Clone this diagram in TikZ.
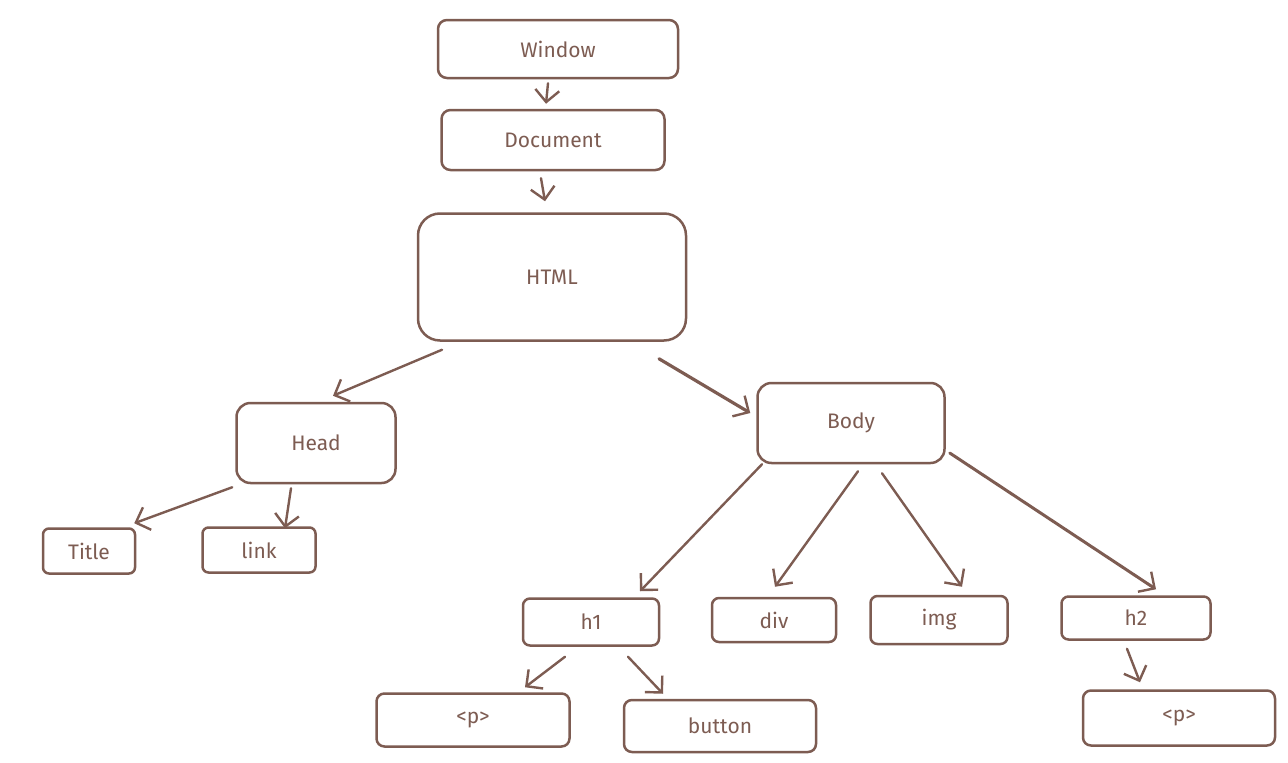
\documentclass[tikz,border=0pt]{standalone}
\usepackage{fontspec}
\setmainfont{Fira Sans}
\usetikzlibrary{arrows.meta}
\definecolor{ink}{RGB}{125,92,82}
\tikzset{
  box/.style={draw=ink, line width=2.5pt, rounded corners=9pt, fill=white, text=ink,
    inner sep=0pt, font=\fontsize{21}{24}\selectfont},
  arr/.style={draw=ink, line width=2.4pt, line cap=round,
    -{Straight Barb[length=12pt,width=24pt,line width=2.4pt]}},
}
\begin{document}
\begin{tikzpicture}[x=1pt,y=-1pt]
\useasboundingbox (0,0) rectangle (1288,763);
\node[box, minimum width=240pt, minimum height=58pt] (win) at (558,49) {Window};
\node[box, minimum width=223pt, minimum height=60pt] (doc) at (553,140) {Document};
\node[box, minimum width=268pt, minimum height=127pt, rounded corners=22pt] (html) at (552,277) {HTML};
\node[box, minimum width=159pt, minimum height=80pt, rounded corners=14pt] (head) at (316,443) {Head};
\node[box, minimum width=187pt, minimum height=80pt, rounded corners=14pt] (body) at (851,423) {Body};
\node[box, minimum width=92pt, minimum height=45pt, rounded corners=6pt] (title) at (89,551) {Title};
\node[box, minimum width=113pt, minimum height=45pt, rounded corners=6pt] (link) at (259,550) {link};
\node[box, minimum width=136pt, minimum height=47pt, rounded corners=7pt] (h1) at (591,622) {h1};
\node[box, minimum width=124pt, minimum height=44pt, rounded corners=7pt] (div) at (774,620) {div};
\node[box, minimum width=137pt, minimum height=48pt, rounded corners=7pt] (img) at (939,620) {img};
\node[box, minimum width=149pt, minimum height=43pt, rounded corners=7pt] (h2) at (1136,618) {h2};
\node[box, minimum width=193pt, minimum height=53pt, rounded corners=8pt] (p1) at (473,720) {<p>};
\node[box, minimum width=192pt, minimum height=52pt, rounded corners=8pt] (btn) at (720,726) {button};
\node[box, minimum width=192pt, minimum height=55pt, rounded corners=8pt] (p2) at (1179,718) {<p>};

\draw[arr] ([xshift=-10pt,yshift=-4pt]win.south) -- ([xshift=-7pt,yshift=5pt]doc.north);
\draw[arr] ([xshift=-12pt,yshift=-7pt]doc.south) -- ([xshift=-7pt,yshift=11pt]html.north);
\draw[arr] ([xshift=-110pt,yshift=-8pt]html.south) -- ([xshift=17pt,yshift=6pt]head.north);
\draw[arr, line width=3.2pt] ([xshift=107pt,yshift=-17pt]html.south) -- ([xshift=-6pt,yshift=10pt]body.west);
\draw[arr] ([xshift=-3pt,yshift=-3pt]head.south west) -- ([xshift=-2pt,yshift=4pt]title.north east);
\draw[arr] ([xshift=-25pt,yshift=-4pt]head.south) -- ([xshift=26pt,yshift=-2pt]link.north);
\draw[arr] ([xshift=-89pt,yshift=0pt]body.south) -- ([xshift=49pt,yshift=6pt]h1.north);
\draw[arr] ([xshift=7pt,yshift=-7pt]body.south) -- ([xshift=1pt,yshift=10pt]div.north);
\draw[arr] ([xshift=31pt,yshift=-9pt]body.south) -- ([xshift=23pt,yshift=8pt]img.north);
\draw[arr, line width=3pt] ([xshift=4pt,yshift=-30pt]body.east) -- ([xshift=20pt,yshift=6pt]h2.north);
\draw[arr] ([xshift=-26pt,yshift=-10pt]h1.south) -- ([xshift=52pt,yshift=5pt]p1.north);
\draw[arr] ([xshift=37pt,yshift=-10pt]h1.south) -- ([xshift=-57pt,yshift=5pt]btn.north);
\draw[arr] ([xshift=-9pt,yshift=-8pt]h2.south) -- ([xshift=-39pt,yshift=7pt]p2.north);
\end{tikzpicture}
\end{document}
